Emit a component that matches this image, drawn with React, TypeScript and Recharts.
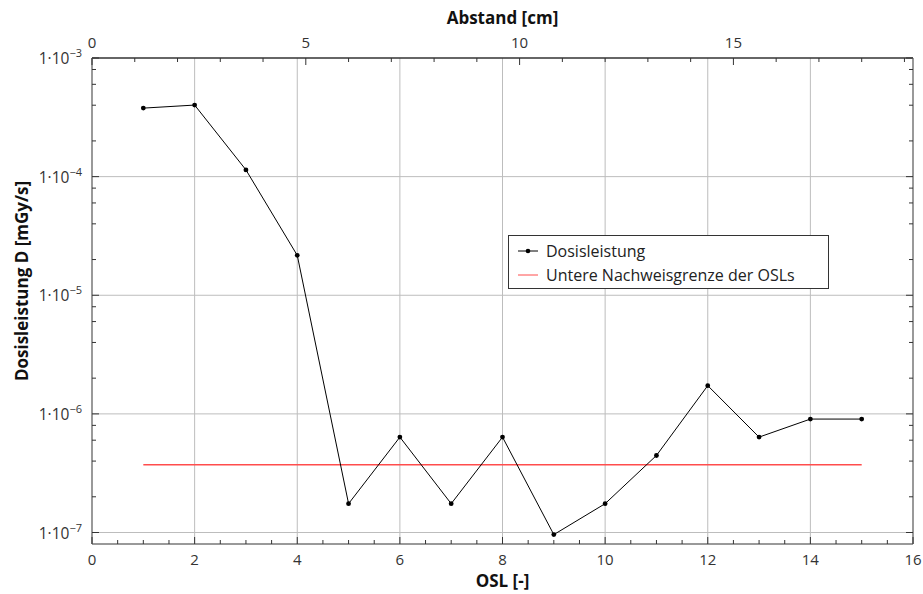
import React from 'react';
import { LineChart, Line, XAxis, YAxis, ReferenceLine, Legend, Label } from 'recharts';

const FONT = '"Open Sans", "Noto Sans", sans-serif';

// ---- data ----
const oslNumbers = [1, 2, 3, 4, 5, 6, 7, 8, 9, 10, 11, 12, 13, 14, 15];
const doseRate = [3.78e-4, 4.01e-4, 1.14e-4, 2.17e-5, 1.75e-7, 6.37e-7, 1.75e-7, 6.37e-7, 9.6e-8, 1.75e-7, 4.46e-7, 1.73e-6, 6.37e-7, 9.04e-7, 9.04e-7];
const detectionLimit = [3.72e-7, 3.72e-7, 3.72e-7, 3.72e-7, 3.72e-7, 3.72e-7, 3.72e-7, 3.72e-7, 3.72e-7, 3.72e-7, 3.72e-7, 3.72e-7, 3.72e-7, 3.72e-7, 3.72e-7];

// ---- ticks ----
const oslTicks = [0, 0.5, 1, 1.5, 2, 2.5, 3, 3.5, 4, 4.5, 5, 5.5, 6, 6.5, 7, 7.5, 8, 8.5, 9, 9.5, 10, 10.5, 11, 11.5, 12, 12.5, 13, 13.5, 14, 14.5, 15, 15.5, 16];
const oslGrid = [2, 4, 6, 8, 10, 12, 14];
const cmTicks = [0, 1, 2, 3, 4, 5, 6, 7, 8, 9, 10, 11, 12, 13, 14, 15, 16, 17, 18, 19];
const doseTicks = [1e-7, 2e-7, 4e-7, 6e-7, 8e-7, 1e-6, 2e-6, 4e-6, 6e-6, 8e-6, 1e-5, 2e-5, 4e-5, 6e-5, 8e-5, 1e-4, 2e-4, 4e-4, 6e-4, 8e-4, 1e-3];
const doseGrid = [1e-7, 1e-6, 1e-5, 1e-4];

const oslDomain = [0, 16];
const cmDomain = [0, 19.2];
const doseDomain = [8e-8, 1e-3];

const rows = oslNumbers.map((o, i) => ({ osl: o, dose: doseRate[i], limit: detectionLimit[i] }));

const TICK_COLOR = '#333';
const LABEL_COLOR = '#333';

const isDecade = (v: number) => Math.abs(Math.log10(v) - Math.round(Math.log10(v))) < 1e-6;

const BottomTick = (props: any) => {
  const { x, y, payload } = props;
  const v = payload.value;
  const major = v % 2 === 0;
  return (
    <g>
      <line x1={x} x2={x} y1={y} y2={y - (major ? 7 : 4)} stroke={TICK_COLOR} strokeWidth={1} />
      {major && (
        <text x={x} y={y + 21} textAnchor="middle" fontSize={15} fontFamily={FONT} fill={LABEL_COLOR}>
          {v}
        </text>
      )}
    </g>
  );
};

const TopTick = (props: any) => {
  const { x, y, payload } = props;
  const v = payload.value;
  const major = v % 5 === 0;
  return (
    <g>
      <line x1={x} x2={x} y1={y} y2={y + (major ? 7 : 4)} stroke={TICK_COLOR} strokeWidth={1} />
      {major && (
        <text x={x} y={y - 10} textAnchor="middle" fontSize={15} fontFamily={FONT} fill={LABEL_COLOR}>
          {v}
        </text>
      )}
    </g>
  );
};

const LeftTick = (props: any) => {
  const { x, y, payload } = props;
  const v = payload.value;
  const major = isDecade(v);
  const e = Math.round(Math.log10(v));
  return (
    <g>
      <line x1={x} x2={x + (major ? 7 : 4)} y1={y} y2={y} stroke={TICK_COLOR} strokeWidth={1} />
      {major && (
        <text x={x - 10} y={y + 6} textAnchor="end" fontSize={15.5} fontFamily={FONT} fill={LABEL_COLOR}>
          1·10
          <tspan dy={-7} fontSize={11}>{'\u2212' + String(-e)}</tspan>
        </text>
      )}
    </g>
  );
};

const RightTick = (props: any) => {
  const { x, y, payload } = props;
  const v = payload.value;
  const major = isDecade(v);
  return (
    <g>
      <line x1={x} x2={x - (major ? 7 : 4)} y1={y} y2={y} stroke={TICK_COLOR} strokeWidth={1} />
    </g>
  );
};

const LegendBox = (props: any) => {
  const payload = (props && props.payload) || [];
  return (
    <div
      style={{
        position: 'relative',
        width: 321,
        height: 54,
        boxSizing: 'border-box',
        border: '1px solid #333',
        background: '#fff',
        fontFamily: FONT,
        fontSize: 16,
        color: '#222',
      }}
    >
      {payload.map((entry: any, i: number) => (
        <div
          key={i}
          style={{
            position: 'absolute',
            left: 8,
            top: 4 + i * 23.5,
            height: 22,
            lineHeight: '22px',
            display: 'flex',
            alignItems: 'center',
            whiteSpace: 'nowrap',
          }}
        >
          <svg width={22} height={22} style={{ display: 'block' }}>
            <line x1={1} x2={21} y1={11} y2={11} stroke={entry.color} strokeWidth={1} />
            {entry.dataKey === 'dose' && <circle cx={11} cy={11} r={2.3} fill={entry.color} />}
          </svg>
          <span style={{ marginLeft: 7 }}>{entry.value}</span>
        </div>
      ))}
    </div>
  );
};

export default function App() {
  return (
    <div style={{ position: 'absolute', left: 0, top: 0, background: '#fff' }}>
      <LineChart width={923} height={594} data={rows} margin={{ top: 0, right: 0, bottom: 0, left: 0 }}>
        <XAxis
          xAxisId="osl"
          dataKey="osl"
          type="number"
          orientation="bottom"
          domain={oslDomain}
          allowDataOverflow
          ticks={oslTicks}
          interval={0}
          height={50}
          tickSize={0}
          tickMargin={0}
          tickLine={false}
          tick={<BottomTick />}
          axisLine={{ stroke: '#777', strokeWidth: 1.5 }}
        >
          <Label
            content={(p: any) => {
              const vb = p.viewBox || { x: 92, y: 544, width: 821, height: 50 };
              return (
                <text x={vb.x + vb.width / 2} y={vb.y + 43} textAnchor="middle" fontSize={17} fontWeight="bold" fontFamily={FONT} fill="#111">
                  OSL [-]
                </text>
              );
            }}
          />
        </XAxis>
        <XAxis
          xAxisId="cm"
          dataKey="osl"
          type="number"
          orientation="top"
          domain={cmDomain}
          allowDataOverflow
          ticks={cmTicks}
          interval={0}
          height={58}
          tickSize={0}
          tickMargin={0}
          tickLine={false}
          tick={<TopTick />}
          axisLine={{ stroke: '#333', strokeWidth: 1.5 }}
        >
          <Label
            content={(p: any) => {
              const vb = p.viewBox || { x: 92, y: 0, width: 821, height: 58 };
              return (
                <text x={vb.x + vb.width / 2} y={vb.y + 24} textAnchor="middle" fontSize={17} fontWeight="bold" fontFamily={FONT} fill="#111">
                  Abstand [cm]
                </text>
              );
            }}
          />
        </XAxis>
        <YAxis
          yAxisId="left"
          type="number"
          scale="log"
          orientation="left"
          domain={doseDomain}
          allowDataOverflow
          ticks={doseTicks}
          interval={0}
          width={92}
          tickSize={0}
          tickMargin={0}
          tickLine={false}
          tick={<LeftTick />}
          axisLine={{ stroke: '#777', strokeWidth: 1.5 }}
        >
          <Label
            content={(p: any) => {
              const vb = p.viewBox || { x: 0, y: 58, width: 92, height: 486 };
              const cx = vb.x + 21;
              const cy = vb.y + vb.height / 2 - 20;
              return (
                <text
                  transform={`translate(${cx},${cy}) rotate(-90)`}
                  textAnchor="middle"
                  dominantBaseline="central"
                  fontSize={17}
                  fontWeight="bold"
                  fontFamily={FONT}
                  fill="#111"
                >
                  Dosisleistung D [mGy/s]
                </text>
              );
            }}
          />
        </YAxis>
        <YAxis
          yAxisId="right"
          dataKey="dose"
          type="number"
          scale="log"
          orientation="right"
          domain={doseDomain}
          allowDataOverflow
          ticks={doseTicks}
          interval={0}
          width={10}
          tickSize={0}
          tickMargin={0}
          tickLine={false}
          tick={<RightTick />}
          axisLine={{ stroke: '#777', strokeWidth: 1.5 }}
        />
        {oslGrid.map((v) => (
          <ReferenceLine key={'gx' + v} x={v} xAxisId="osl" yAxisId="left" stroke="#bdbdbd" strokeWidth={1} />
        ))}
        {doseGrid.map((v) => (
          <ReferenceLine key={'gy' + v} y={v} xAxisId="osl" yAxisId="left" stroke="#bdbdbd" strokeWidth={1} />
        ))}
        <Line
          xAxisId="osl"
          yAxisId="left"
          type="linear"
          dataKey="limit"
          name="Untere Nachweisgrenze der OSLs"
          stroke="#ff4d4d"
          strokeWidth={1.5}
          dot={false}
          activeDot={false}
          isAnimationActive={false}
        />
        <Line
          xAxisId="osl"
          yAxisId="left"
          type="linear"
          dataKey="dose"
          name="Dosisleistung"
          stroke="#000"
          strokeWidth={1}
          dot={{ r: 2.4, fill: '#000', stroke: 'none' }}
          activeDot={false}
          isAnimationActive={false}
        />
        <Legend
          layout="vertical"
          align="center"
          verticalAlign="middle"
          content={<LegendBox />}
          wrapperStyle={{ left: 508, top: 235, width: 321, height: 54 }}
          itemSorter={(item: any) => (item.dataKey === 'dose' ? 0 : 1)}
        />
      </LineChart>
    </div>
  );
}
